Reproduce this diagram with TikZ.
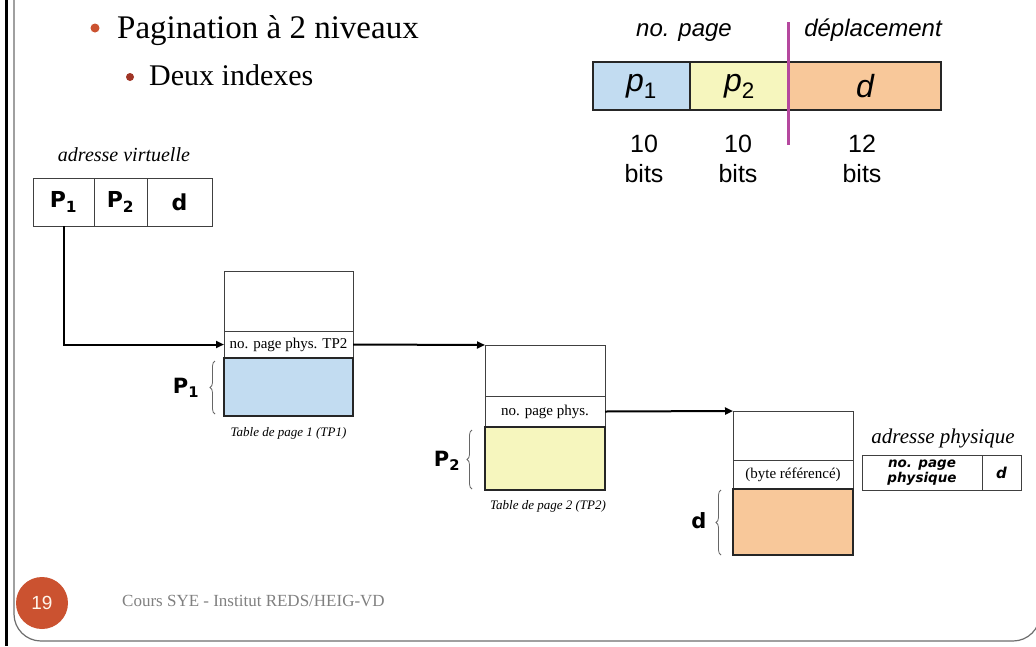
\documentclass[tikz,border=0pt]{standalone}
\usepackage{fontspec}
\setmainfont{Liberation Serif}
\setsansfont{Liberation Sans}
\newfontfamily\vfont{DejaVu Sans}
\usetikzlibrary{decorations.pathreplacing,arrows.meta}
\newcommand\fsz[1]{\fontsize{#1}{#1}\selectfont}
\definecolor{cblue}{HTML}{C2DCF1}
\definecolor{cyel}{HTML}{F6F6BE}
\definecolor{cora}{HTML}{F8C89A}
\definecolor{corange}{HTML}{CB5230}
\definecolor{cdred}{HTML}{A03526}
\definecolor{cmag}{HTML}{B5489E}
\definecolor{cframe}{HTML}{6E6E6E}
\tikzset{
  cell/.style={draw=black!75, line width=0.8pt, inner sep=0pt, outer sep=0pt},
  blk/.style={draw=black!85, line width=2pt, inner sep=0pt, outer sep=0pt},
  hcell/.style={draw=black!85, line width=1.5pt, inner sep=0pt, outer sep=0pt},
  conn/.style={line width=2pt, -{Triangle[length=8pt,width=7pt]}},
  brc/.style={draw=black!60, line width=0.8pt, decorate, decoration={brace, amplitude=5pt}},
  lab/.style={font=\vfont\bfseries\fsz{21}, inner sep=0pt},
  captxt/.style={font=\itshape\fsz{13}, inner sep=0pt},
  rowtxt/.style={font=\fsz{15}},
  bitlab/.style={font=\sffamily\fsz{25}, inner sep=0pt, anchor=base}
}
\begin{document}
\begin{tikzpicture}[x=1pt,y=-1pt]
\useasboundingbox (0,0) rectangle (1036,646);
\fill[white] (0,0) rectangle (1036,646);
% slide frame
\draw[line width=3pt, black] (6,0) -- (6,646);
\draw[line width=1.2pt, cframe, rounded corners=27] (14,0) -- (14,641) -- (1040,641) -- (1040,540);
% title bullets
\fill[corange] (95,28) circle (4.5);
\node[anchor=base west, inner sep=0pt, font=\fsz{33}] (title) at (117,38) {Pagination à 2 niveaux};
\fill[cdred] (130,77) circle (4);
\node[anchor=base west, inner sep=0pt, font=\fsz{30}] (sub) at (149,85) {Deux indexes};
% top right format
\node[hcell, fill=cblue, minimum width=97, minimum height=48] (pc1) at (641.5,86) {\sffamily\fsz{32}\itshape p\textsubscript{\upshape 1}};
\node[hcell, fill=cyel, minimum width=99, minimum height=48] (pc2) at (739.5,86) {\sffamily\fsz{32}\itshape p\textsubscript{\upshape 2}};
\node[hcell, fill=cora, minimum width=152, minimum height=48] (pd) at (865,86) {\sffamily\fsz{32}\itshape d};
\coordinate (mtop) at (788,22);
\coordinate (mbot) at (788,145);
\draw[cmag, line width=3pt] (mtop) -- (mbot);
\node[font=\sffamily\itshape\fsz{24}, inner sep=0pt, anchor=base] (nopage) at (684,36) {no. page};
\node[font=\sffamily\itshape\fsz{24}, inner sep=0pt, anchor=base] (depl) at (873,36) {déplacement};
\node[bitlab] (b1n) at (644,152) {10};
\node[bitlab] (b1b) at (644,182) {bits};
\node[bitlab] (b2n) at (738,152) {10};
\node[bitlab] (b2b) at (738,182) {bits};
\node[bitlab] (b3n) at (862,152) {12};
\node[bitlab] (b3b) at (862,182) {bits};
% virtual address
\node[font=\itshape\fsz{20}, inner sep=0pt, anchor=base] (va) at (124,161) {adresse virtuelle};
\node[cell, minimum width=61, minimum height=48] (vP1) at (63.5,202) {\vfont\bfseries\fsz{22}P\textsubscript{1}};
\node[cell, minimum width=53, minimum height=48] (vP2) at (120.5,202) {\vfont\bfseries\fsz{22}P\textsubscript{2}};
\node[cell, minimum width=65, minimum height=48] (vd) at (179.5,202) {\vfont\bfseries\fsz{22}d};
% table 1
\node[cell, minimum width=129, minimum height=60] (t1top) at (288.5,301) {};
\node[cell, minimum width=129, minimum height=27, rowtxt] (t1row) at (288.5,344.5) {no. page phys. TP2};
\node[blk, fill=cblue, minimum width=129, minimum height=58] (t1blk) at (288.5,387) {};
\node[captxt] (t1cap) at (288.5,433) {Table de page 1 (TP1)};
\coordinate (br1b) at (215,414);
\coordinate (br1t) at (215,361);
\draw[brc] (br1b) -- (br1t);
\node[lab] (lP1) at (186,388) {P\textsubscript{1}};
% table 2
\node[cell, minimum width=120, minimum height=51] (t2top) at (545,370.5) {};
\node[cell, minimum width=120, minimum height=31, rowtxt] (t2row) at (545,411.5) {no. page phys.};
\node[blk, fill=cyel, minimum width=120, minimum height=63] (t2blk) at (545,458.5) {};
\node[captxt] (t2cap) at (548,506) {Table de page 2 (TP2)};
\coordinate (br2b) at (472,489);
\coordinate (br2t) at (472,430);
\draw[brc] (br2b) -- (br2t);
\node[lab] (lP2) at (447,461) {P\textsubscript{2}};
% table 3
\node[cell, minimum width=120, minimum height=49] (t3top) at (793,435.5) {};
\node[cell, minimum width=120, minimum height=29, rowtxt] (t3row) at (793,474.5) {(byte référencé)};
\node[blk, fill=cora, minimum width=120, minimum height=66] (t3blk) at (793,522) {};
\coordinate (br3b) at (721,555);
\coordinate (br3t) at (721,490);
\draw[brc] (br3b) -- (br3t);
\node[lab] (ld) at (699,521) {d};
% physical address
\node[font=\itshape\fsz{21}, inner sep=0pt, anchor=base] (pa) at (943,443) {adresse physique};
\node[cell, minimum width=120, minimum height=35, align=center, font=\vfont\bfseries\itshape\fontsize{13.5}{15}\selectfont] (ppn) at (922,472.5) {no. page\\physique};
\node[cell, minimum width=39, minimum height=35, font=\vfont\bfseries\itshape\fsz{15}] (ppd) at (1001.5,472.5) {d};
% connectors
\draw[conn] (vP1.south) |- (t1row.west);
\draw[conn] (t1row.east) -- (t2top.north west);
\draw[conn] (t2row.east) -- (t3top.north west);
% footer
\node[circle, fill=corange, minimum size=52, inner sep=0pt, font=\sffamily\fsz{19}, text=white!92!orange] (pg) at (42,603) {19};
\node[anchor=base west, inner sep=0pt, font=\fsz{17}, text=black!50] (foot) at (122,606) {Cours SYE - Institut REDS/HEIG-VD};
\end{tikzpicture}
\end{document}
